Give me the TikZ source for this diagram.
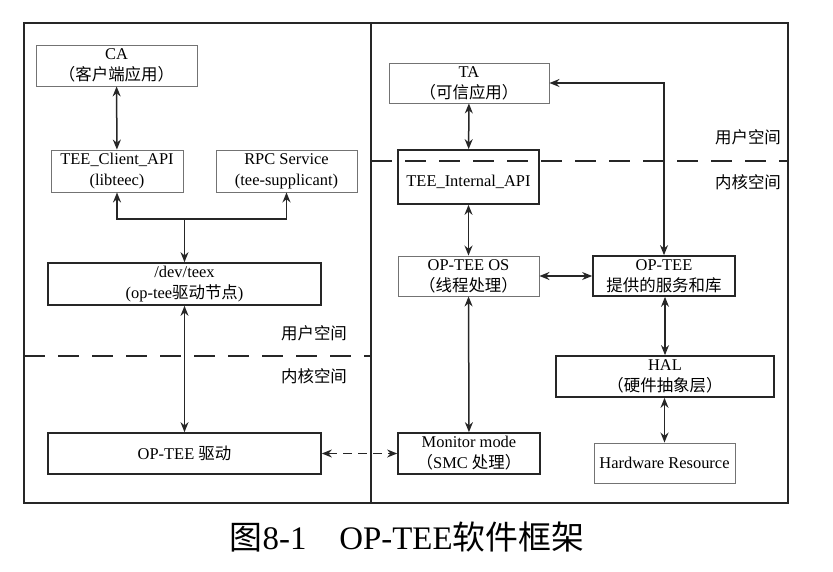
\documentclass[tikz,border=0pt]{standalone}
\usepackage{fontspec}
\setmainfont{Liberation Serif}
\newfontfamily\cjk{Noto Sans CJK SC}
\usetikzlibrary{arrows.meta}
\newcommand{\zh}[1]{{\cjk #1}}

\begin{document}
\begin{tikzpicture}[x=1bp,y=-1bp,
    thinbox/.style={draw=black!55,line width=0.9bp,align=center,inner sep=0pt,
        minimum height=40bp,font=\fontsize{16.5}{21}\selectfont},
    thickbox/.style={thinbox,draw=black!85,line width=1.7bp},
    tip/.tip={Stealth[length=10bp,width=8bp]},
    link/.style={tip-tip,line width=1.5bp,draw=black!85},
    split/.style={dash pattern=on 21bp off 13bp,line width=1.4bp,draw=black!85},
    zone/.style={font=\cjk\fontsize{16.5}{20}\selectfont}]
    \useasboundingbox (0,0) rectangle (833,572);

    % Frame
    \draw[line width=1.5bp,black!85] (24,23) rectangle (788,503);
    \draw[line width=1.5bp,black!85] (371,23) -- (371,503);
    \draw[split] (24,356) -- (371,356);
    \draw[split] (371,161) -- (788,161);
    \node[zone] at (314,333) {用户空间};
    \node[zone] at (314,376) {内核空间};
    \node[zone] at (748,137) {用户空间};
    \node[zone] at (748,182) {内核空间};

    % Normal world
    \node[thinbox,minimum width=161bp,minimum height=41bp] (ca) at (116.5,65.5) {CA\\\zh{（客户端应用）}};
    \node[thinbox,minimum width=132bp,minimum height=42bp] (clnt) at (117,171) {TEE\_Client\_API\\(libteec)};
    \node[thinbox,minimum width=141bp,minimum height=42bp] (rpc) at (286.5,171) {RPC Service\\(tee-supplicant)};
    \node[thickbox,minimum width=273bp,minimum height=42bp] (dev) at (184.5,284) {/dev/teex\\(op-tee\zh{驱动节点})};
    \node[thickbox,minimum width=273bp,minimum height=41bp] (drv) at (184.5,453.5) {OP-TEE \zh{驱动}};
    \coordinate (fork) at (184.5,219);

    % Secure world
    \node[thinbox,minimum width=160bp] (ta) at (469,83) {TA\\\zh{（可信应用）}};
    \node[thickbox,minimum width=141bp,minimum height=54bp] (tint) at (468.5,177) {\raisebox{-10bp}[0pt][0pt]{TEE\_Internal\_API}};
    \node[thinbox,minimum width=141bp] (tos) at (468.5,276) {OP-TEE OS\\\zh{（线程处理）}};
    \node[thickbox,minimum width=142bp] (tsvc) at (664,276) {OP-TEE\\\zh{提供的服务和库}};
    \node[thickbox,minimum width=218bp,minimum height=41bp] (hal) at (665,376.5) {HAL\\\zh{（硬件抽象层）}};
    \node[thickbox,minimum width=142bp,minimum height=41bp] (mon) at (469,453.5) {Monitor mode\\\zh{（}SMC \zh{处理）}};
    \node[thinbox,minimum width=141bp] (hwr) at (664.5,463) {Hardware Resource};

    % Links
    \draw[link] (ca) -- (clnt);
    \draw[link,tip-] (dev.north) -- (fork);
    \draw[link,-tip] (fork) -| (clnt.south);
    \draw[link,-tip] (fork) -| (rpc.south);
    \draw[link] (dev) -- (drv);
    \draw[link,dash pattern=on 9bp off 6bp] (drv) -- (mon);
    \draw[link] (ta) -- (tint);
    \draw[link] (tint) -- (tos);
    \draw[link] (tos) -- (mon);
    \draw[link] (tos) -- (tsvc);
    \draw[link] (ta.east) -| (tsvc.north);
    \draw[link] (tsvc.south -| hal.north) -- (hal.north);
    \draw[link] (hal.south -| hwr.north) -- (hwr.north);

    % Caption
    \node[font=\fontsize{33}{36}\selectfont] (cap) at (407,537) {\zh{图}8-1\quad OP-TEE\zh{软件框架}};
\end{tikzpicture}
\end{document}
